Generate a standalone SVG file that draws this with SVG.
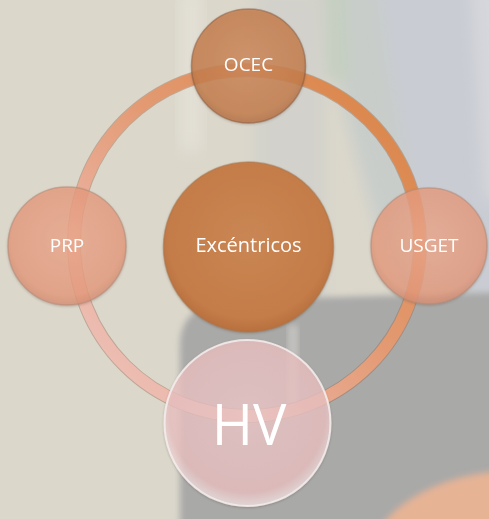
<svg xmlns="http://www.w3.org/2000/svg" width="489" height="519" viewBox="0 0 489 519">
<defs>
  <filter id="blur8" x="-20%" y="-20%" width="140%" height="140%"><feGaussianBlur stdDeviation="8"/></filter>
  <filter id="blur3" x="-20%" y="-20%" width="140%" height="140%"><feGaussianBlur stdDeviation="3"/></filter>
  <filter id="shadow" x="-20%" y="-20%" width="140%" height="140%">
    <feDropShadow dx="0" dy="1" stdDeviation="1.2" flood-color="#5a4030" flood-opacity="0.35"/>
  </filter>
  <linearGradient id="ringGrad" x1="1" y1="0" x2="0" y2="1">
    <stop offset="0" stop-color="#d8813f"/>
    <stop offset="0.45" stop-color="#e39a72"/>
    <stop offset="0.75" stop-color="#ebb3a3"/>
    <stop offset="1" stop-color="#efc8c4"/>
  </linearGradient>
  <radialGradient id="gCenter" cx="0.5" cy="0.45" r="0.55">
    <stop offset="0" stop-color="#c98654"/>
    <stop offset="0.85" stop-color="#c47c48"/>
    <stop offset="1" stop-color="#b8703f"/>
  </radialGradient>
  <radialGradient id="gOcec" cx="0.5" cy="0.45" r="0.55">
    <stop offset="0" stop-color="#d08a5c"/>
    <stop offset="0.85" stop-color="#c67e4c"/>
    <stop offset="1" stop-color="#b87245"/>
  </radialGradient>
  <radialGradient id="gSide" cx="0.5" cy="0.45" r="0.55">
    <stop offset="0" stop-color="#f0aa8e"/>
    <stop offset="0.85" stop-color="#e99d7f"/>
    <stop offset="1" stop-color="#d98f74"/>
  </radialGradient>
  <radialGradient id="gHV" cx="0.5" cy="0.45" r="0.55">
    <stop offset="0" stop-color="#f0cccc"/>
    <stop offset="0.85" stop-color="#ecc3c3"/>
    <stop offset="1" stop-color="#f3e6e6"/>
  </radialGradient>
  <style>
    .lbl { font-family: "Open Sans", "Liberation Sans", sans-serif; fill: #ffffff; text-anchor: middle; }
    .node { filter: url(#shadow); }
  </style>
</defs>

<!-- background photo (blurred) -->
<g id="background">
  <rect x="0" y="0" width="489" height="519" fill="#dbd7cb"/>
  <path d="M320,-20 L520,-20 L520,320 L400,300 C370,200 340,120 320,-20 Z" fill="#c8cdca" filter="url(#blur8)"/>
  <path d="M380,-20 L520,-20 L520,300 L440,290 C410,180 390,90 380,-20 Z" fill="#c9ccd3" filter="url(#blur8)"/>
  <path d="M470,-20 L520,-20 L520,200 L485,200 Z" fill="#d6d7dc" filter="url(#blur8)"/>
  <path d="M315,-20 L345,-20 L350,80 L322,80 Z" fill="#c4cfc0" filter="url(#blur8)"/>
  <rect x="255" y="-10" width="70" height="320" fill="#d2d1cb" filter="url(#blur8)"/>
  <rect x="180" y="-10" width="22" height="160" fill="#e3e0d6" filter="url(#blur8)"/>
  <path d="M180,540 L180,345 C180,320 195,305 225,300 L520,292 L520,540 Z" fill="#a9a9a8" filter="url(#blur3)"/>
  <rect x="288" y="325" width="10" height="80" fill="#c4c3c0" filter="url(#blur3)"/>
  <ellipse cx="520" cy="570" rx="155" ry="100" fill="#e6b395" filter="url(#blur3)"/>
</g>

<!-- connector ring -->
<g id="connectors">
  <circle cx="247" cy="243" r="173" fill="none" stroke="#9a6a50" stroke-opacity="0.45" stroke-width="14"/>
  <circle cx="247" cy="243" r="173" fill="none" stroke="url(#ringGrad)" stroke-width="12"/>
</g>

<g id="node-center" class="node">
  <circle cx="248.5" cy="247" r="85" fill="url(#gCenter)" stroke="#a8784f" stroke-opacity="0.5" stroke-width="1.5"/>
  <text class="lbl" x="248.5" y="252" font-size="20">Excéntricos</text>
</g>

<g id="node-ocec" class="node">
  <circle cx="248.5" cy="66" r="57" fill="url(#gOcec)" fill-opacity="0.8" stroke="#8a5a3e" stroke-opacity="0.5" stroke-width="1.5"/>
  <text class="lbl" x="248.5" y="71" font-size="19">OCEC</text>
</g>

<g id="node-prp" class="node">
  <circle cx="67" cy="246" r="59" fill="url(#gSide)" fill-opacity="0.76" stroke="#b88a78" stroke-opacity="0.6" stroke-width="1.5"/>
  <text class="lbl" x="67" y="252" font-size="19">PRP</text>
</g>

<g id="node-usget" class="node">
  <circle cx="429" cy="246" r="58" fill="url(#gSide)" fill-opacity="0.76" stroke="#b88a78" stroke-opacity="0.6" stroke-width="1.5"/>
  <text class="lbl" x="429" y="252" font-size="19">USGET</text>
</g>

<g id="node-hv" class="node">
  <circle cx="247.5" cy="423" r="83" fill="url(#gHV)" fill-opacity="0.76" stroke="#f6eeee" stroke-opacity="0.85" stroke-width="2"/>
  <text class="lbl" x="249" y="445" font-size="56">HV</text>
</g>
</svg>
